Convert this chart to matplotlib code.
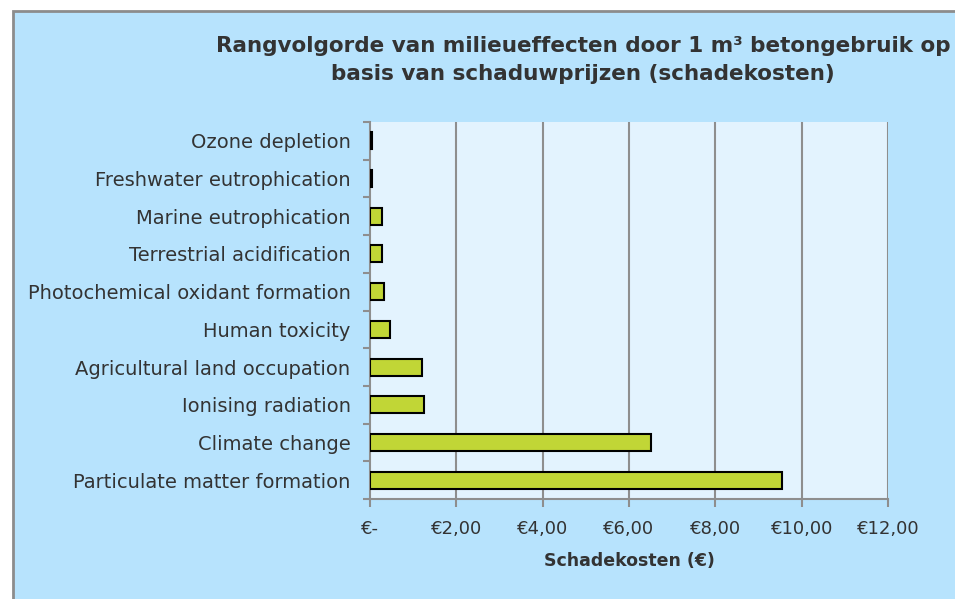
import matplotlib.pyplot as plt
from matplotlib.patches import Rectangle
import numpy as np

categories = ["Ozone depletion", "Freshwater eutrophication", "Marine eutrophication",
              "Terrestrial acidification", "Photochemical oxidant formation",
              "Human toxicity", "Agricultural land occupation", "Ionising radiation",
              "Climate change", "Particulate matter formation"]
values = [0.05, 0.05, 0.28, 0.28, 0.32, 0.46, 1.21, 1.26, 6.50, 9.54]
xticks = [0, 2, 4, 6, 8, 10, 12]
xticklabels = ["€-", "€2,00", "€4,00", "€6,00", "€8,00", "€10,00", "€12,00"]

outer_bg = "#B7E3FD"
plot_bg = "#E3F3FE"
bar_col = "#C1D636"
grid_col = "#8E8E8E"
txt_col = "#333333"

plt.rcParams['font.family'] = ['DejaVu Sans']

fig = plt.figure(figsize=(9.55, 5.99), dpi=100)
fig.patch.set_facecolor("white")
W, H = 955, 599
fig.patches.append(Rectangle((13 / W, -0.1), 1.1, 1 - 11 / H + 0.1,
                             transform=fig.transFigure, facecolor=outer_bg,
                             edgecolor="#8C8C8C", linewidth=2, zorder=-5))

ax = fig.add_axes([370 / W, (H - 499) / H, (888 - 370) / W, (499 - 122) / H])
ax.set_zorder(2)
ax.set_facecolor(plot_bg)

n = len(categories)
ypos = np.arange(n)[::-1]
ax.barh(ypos, values, height=0.45, color=bar_col, edgecolor="black", linewidth=1.5, zorder=3)

ax.set_xlim(0, 12)
ax.set_ylim(-0.5, n - 0.5)
ax.set_xticks(xticks)
ax.set_xticklabels(xticklabels, fontsize=13, color=txt_col)
ax.set_yticks(ypos)
ax.set_yticklabels(categories, fontsize=14, color=txt_col)
ax.set_yticks(np.arange(n + 1) - 0.5, minor=True)
ax.tick_params(axis="y", which="major", length=0, pad=14)
ax.tick_params(axis="y", which="minor", length=5, width=1.5, color=grid_col)
ax.tick_params(axis="x", length=6, width=1.5, color=grid_col, pad=9)

for x in xticks[1:]:
    ax.axvline(x, color=grid_col, linewidth=1.5, zorder=1)

for s in ["top", "right"]:
    ax.spines[s].set_visible(False)
for s in ["left", "bottom"]:
    ax.spines[s].set_color(grid_col)
    ax.spines[s].set_linewidth(1.5)

ax.set_xlabel("Schadekosten (€)", fontsize=12.5, fontweight="bold", color=txt_col, labelpad=10)

fig.text(583 / W, 1 - 60 / H,
         "Rangvolgorde van milieueffecten door 1 m³ betongebruik op\nbasis van schaduwprijzen (schadekosten)",
         ha="center", va="center", fontsize=15.5, fontweight="bold", color=txt_col,
         linespacing=1.5)

fig.savefig("out.png", dpi=100)
